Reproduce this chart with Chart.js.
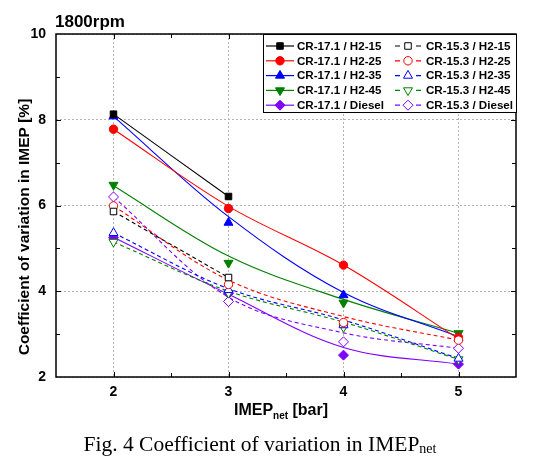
<!DOCTYPE html>
<html><head><meta charset="utf-8">
<script src="https://cdn.jsdelivr.net/npm/chart.js@4/dist/chart.umd.min.js"></script>
<style>html,body{margin:0;padding:0;background:#fff;}#wrap{width:535px;height:469px;}</style>
</head><body><div id="wrap"><canvas id="c" width="535" height="469"></canvas></div>
<script>
// ---- data ----
const imepNet = [2, 3, 4, 5];          // x categories (bar)
const yTickValues = [2, 4, 6, 8, 10];  // y tick labels (%)

// measured markers (COV of IMEP, %)
const cr171_h15 = [8.13, 6.21];
const cr171_h25 = [7.78, 5.93, 4.61, 2.92];
const cr171_h35 = [8.08, 5.60, 3.91, 2.90];
const cr171_h45 = [6.48, 4.66, 3.73, 3.02];
const cr171_diesel = [5.25, 3.95, 2.51, 2.30];
const cr153_h15 = [5.86, 4.32];
const cr153_h25 = [5.99, 4.16, 3.27, 2.86];
const cr153_h35 = [5.36, 4.03, 3.21, 2.43];
const cr153_h45 = [5.15, 3.96, 3.16, 2.41];
const cr153_diesel = [6.20, 3.76, 2.82, 2.67];

// fitted trend lines (values of the drawn curves at each x)
const fit171_h15 = [8.13, 6.21];
const fit171_h25 = [7.78, 5.98, 4.61, 2.89];
const fit171_h35 = [8.08, 5.74, 3.97, 2.94];
const fit171_h45 = [6.46, 4.82, 3.81, 3.02];
const fit171_diesel = [5.26, 3.93, 2.69, 2.30];
const fit153_h15 = [5.86, 4.32];
const fit153_h25 = [5.99, 4.26, 3.41, 2.86];
const fit153_h35 = [5.36, 4.06, 3.33, 2.43];
const fit153_h45 = [5.15, 4.00, 3.28, 2.41];
const fit153_diesel = [6.20, 3.86, 3.03, 2.67];

const labels171 = ['CR-17.1 / H2-15','CR-17.1 / H2-25','CR-17.1 / H2-35','CR-17.1 / H2-45','CR-17.1 / Diesel'];
const labels153 = ['CR-15.3 / H2-15','CR-15.3 / H2-25','CR-15.3 / H2-35','CR-15.3 / H2-45','CR-15.3 / Diesel'];

// ---- styles ----
const colors = ['#000000', '#ff0000', '#0000ff', '#008000', '#8000ff'];
const styles = [
  {ps:'rect', r:4.6, rot:0},
  {ps:'circle', r:4.2, rot:0},
  {ps:'triangle', r:5.2, rot:0},
  {ps:'triangle', r:5.2, rot:180},
  {ps:'rectRot', r:5, rot:0}
];
const pts171 = [cr171_h15, cr171_h25, cr171_h35, cr171_h45, cr171_diesel];
const pts153 = [cr153_h15, cr153_h25, cr153_h35, cr153_h45, cr153_diesel];
const fits171 = [fit171_h15, fit171_h25, fit171_h35, fit171_h45, fit171_diesel];
const fits153 = [fit153_h15, fit153_h25, fit153_h35, fit153_h45, fit153_diesel];

const toXY = arr => arr.map((v, i) => ({x: imepNet[i], y: v}));
const datasets = [];
for (let i = 0; i < 5; i++) {
  datasets.push({label: labels171[i] + ' fit', data: toXY(fits171[i]), showLine: true, borderColor: colors[i],
    borderWidth: 1.1, pointRadius: 0, tension: 0.35, order: 30});
  datasets.push({label: labels153[i] + ' fit', data: toXY(fits153[i]), showLine: true, borderColor: colors[i],
    borderWidth: 1.1, borderDash: [4, 3], pointRadius: 0, tension: 0.35, order: 30});
}
for (let i = 0; i < 5; i++) {
  datasets.push({label: labels171[i], data: toXY(pts171[i]), showLine: false, pointStyle: styles[i].ps,
    pointRotation: styles[i].rot, pointRadius: styles[i].r, backgroundColor: colors[i], borderColor: colors[i],
    pointBorderWidth: 1, order: 20});
}
for (let i = 0; i < 5; i++) {
  datasets.push({label: labels153[i], data: toXY(pts153[i]), showLine: false, pointStyle: styles[i].ps,
    pointRotation: styles[i].rot, pointRadius: styles[i].r, backgroundColor: '#ffffff', borderColor: colors[i],
    pointBorderWidth: 1, order: 10});
}

const FONT = "'Liberation Sans', Arial, Helvetica, sans-serif";
const SERIF = "'Liberation Serif', 'Times New Roman', serif";

function marker(ctx, i, x, y, filled) {
  const s = styles[i];
  const r = s.r;
  ctx.beginPath();
  if (s.ps === 'rect') { const h = r * Math.SQRT1_2; ctx.rect(x - h, y - h, 2 * h, 2 * h); }
  else if (s.ps === 'circle') { ctx.arc(x, y, r, 0, Math.PI * 2); }
  else if (s.ps === 'rectRot') { ctx.moveTo(x, y - r); ctx.lineTo(x + r, y); ctx.lineTo(x, y + r); ctx.lineTo(x - r, y); ctx.closePath(); }
  else {
    const d = s.rot ? -1 : 1;
    ctx.moveTo(x, y - d * r);
    ctx.lineTo(x + r * 0.866, y + d * r * 0.5);
    ctx.lineTo(x - r * 0.866, y + d * r * 0.5);
    ctx.closePath();
  }
  ctx.fillStyle = filled ? colors[i] : '#fff';
  ctx.fill();
  ctx.lineWidth = 1; ctx.strokeStyle = colors[i]; ctx.stroke();
}

const decor = {
  id: 'decor',
  afterDraw(chart) {
    const {ctx, chartArea: a, scales: {x, y}} = chart;
    ctx.save();
    // frame
    ctx.strokeStyle = '#000'; ctx.lineWidth = 1.5;
    ctx.strokeRect(a.left, a.top, a.right - a.left, a.bottom - a.top);
    // inward ticks
    ctx.lineWidth = 1;
    ctx.beginPath();
    for (let v = 2; v <= 5; v += 0.5) {
      const px = Math.round(x.getPixelForValue(v)) + 0.5;
      const L = Number.isInteger(v) ? 5 : 4;
      ctx.moveTo(px, a.bottom); ctx.lineTo(px, a.bottom - L);
      ctx.moveTo(px, a.top); ctx.lineTo(px, a.top + L);
    }
    for (let v = 3; v <= 9; v += 1) {
      const py = Math.round(y.getPixelForValue(v)) + 0.5;
      const L = v % 2 === 0 ? 5 : 4;
      ctx.moveTo(a.left, py); ctx.lineTo(a.left + L, py);
      ctx.moveTo(a.right, py); ctx.lineTo(a.right - L, py);
    }
    ctx.stroke();

    // legend
    const lx0 = 263, ly0 = a.top, lx1 = a.right, ly1 = 112;
    ctx.fillStyle = '#fff';
    ctx.fillRect(lx0, ly0, lx1 - lx0, ly1 - ly0);
    ctx.strokeStyle = '#000'; ctx.lineWidth = 1;
    ctx.strokeRect(lx0 + 0.5, ly0 + 0.5, lx1 - lx0, ly1 - ly0);
    ctx.font = 'bold 11.6px ' + FONT;
    ctx.textBaseline = 'middle'; ctx.textAlign = 'left';
    for (let i = 0; i < 5; i++) {
      const yy = 46 + i * 14.8;
      // col 1 solid
      ctx.strokeStyle = colors[i]; ctx.lineWidth = 1.2; ctx.setLineDash([]);
      ctx.beginPath(); ctx.moveTo(266, yy); ctx.lineTo(294, yy); ctx.stroke();
      marker(ctx, i, 280, yy, true);
      ctx.fillStyle = '#000'; ctx.fillText(labels171[i], 297, yy + 0.5);
      // col 2 dashed
      ctx.strokeStyle = colors[i]; ctx.lineWidth = 1.2;
      ctx.beginPath(); ctx.moveTo(395, yy); ctx.lineTo(400, yy); ctx.moveTo(416, yy); ctx.lineTo(421, yy); ctx.stroke();
      marker(ctx, i, 408, yy, false);
      ctx.fillStyle = '#000'; ctx.fillText(labels153[i], 426, yy + 0.5);
    }

    // title
    ctx.fillStyle = '#000';
    ctx.font = 'bold 17px ' + FONT; ctx.textBaseline = 'alphabetic'; ctx.textAlign = 'left';
    ctx.fillText('1800rpm', 55, 27);

    // y title
    ctx.save();
    ctx.translate(29, 227); ctx.rotate(-Math.PI / 2);
    ctx.font = 'bold 15.5px ' + FONT; ctx.textAlign = 'center'; ctx.textBaseline = 'alphabetic';
    ctx.fillText('Coefficient of variation in IMEP [%]', 0, 0);
    ctx.restore();

    // x title with subscript
    const parts = [['IMEP', 'bold 16px ' + FONT, 0], ['net', 'bold 10px ' + FONT, 4], [' [bar]', 'bold 16px ' + FONT, 0]];
    drawParts(ctx, parts, 281, 415);

    // caption
    const cap = [['Fig. 4 Coefficient of variation in IMEP', '21.5px ' + SERIF, 0], ['net', '14px ' + SERIF, 2]];
    drawParts(ctx, cap, 260, 451);
    ctx.restore();
  }
};
function drawParts(ctx, parts, cx, base) {
  let w = 0;
  parts.forEach(p => { ctx.font = p[1]; w += ctx.measureText(p[0]).width; });
  let xx = cx - w / 2;
  ctx.textAlign = 'left'; ctx.textBaseline = 'alphabetic'; ctx.fillStyle = '#000';
  parts.forEach(p => { ctx.font = p[1]; ctx.fillText(p[0], xx, base + p[2]); xx += ctx.measureText(p[0]).width; });
}

new Chart(document.getElementById('c'), {
  type: 'scatter',
  data: {datasets},
  options: {
    responsive: false, animation: false, devicePixelRatio: 1,
    layout: {padding: {top: 34, right: 19, left: 0, bottom: 0}},
    plugins: {legend: {display: false}, tooltip: {enabled: false}, title: {display: false}},
    scales: {
      x: {
        type: 'linear', min: 1.5, max: 5.5,
        afterBuildTicks: s => { s.ticks = imepNet.map(v => ({value: v})); },
        afterFit: s => { s.height = 92; },
        grid: {color: '#b4b4b4', lineWidth: 1, drawTicks: false},
        border: {display: false, dash: [2, 2]},
        ticks: {color: '#000', font: {family: FONT, size: 14, weight: 'bold'}, padding: 7, callback: v => String(v)}
      },
      y: {
        type: 'linear', min: 2, max: 10,
        afterBuildTicks: s => { s.ticks = yTickValues.map(v => ({value: v})); },
        afterFit: s => { s.width = 56; },
        grid: {color: '#b4b4b4', lineWidth: 1, drawTicks: false},
        border: {display: false, dash: [2, 2]},
        ticks: {color: '#000', font: {family: FONT, size: 14, weight: 'bold'}, padding: 10, callback: v => String(v)}
      }
    }
  },
  plugins: [decor]
});
</script></body></html>
